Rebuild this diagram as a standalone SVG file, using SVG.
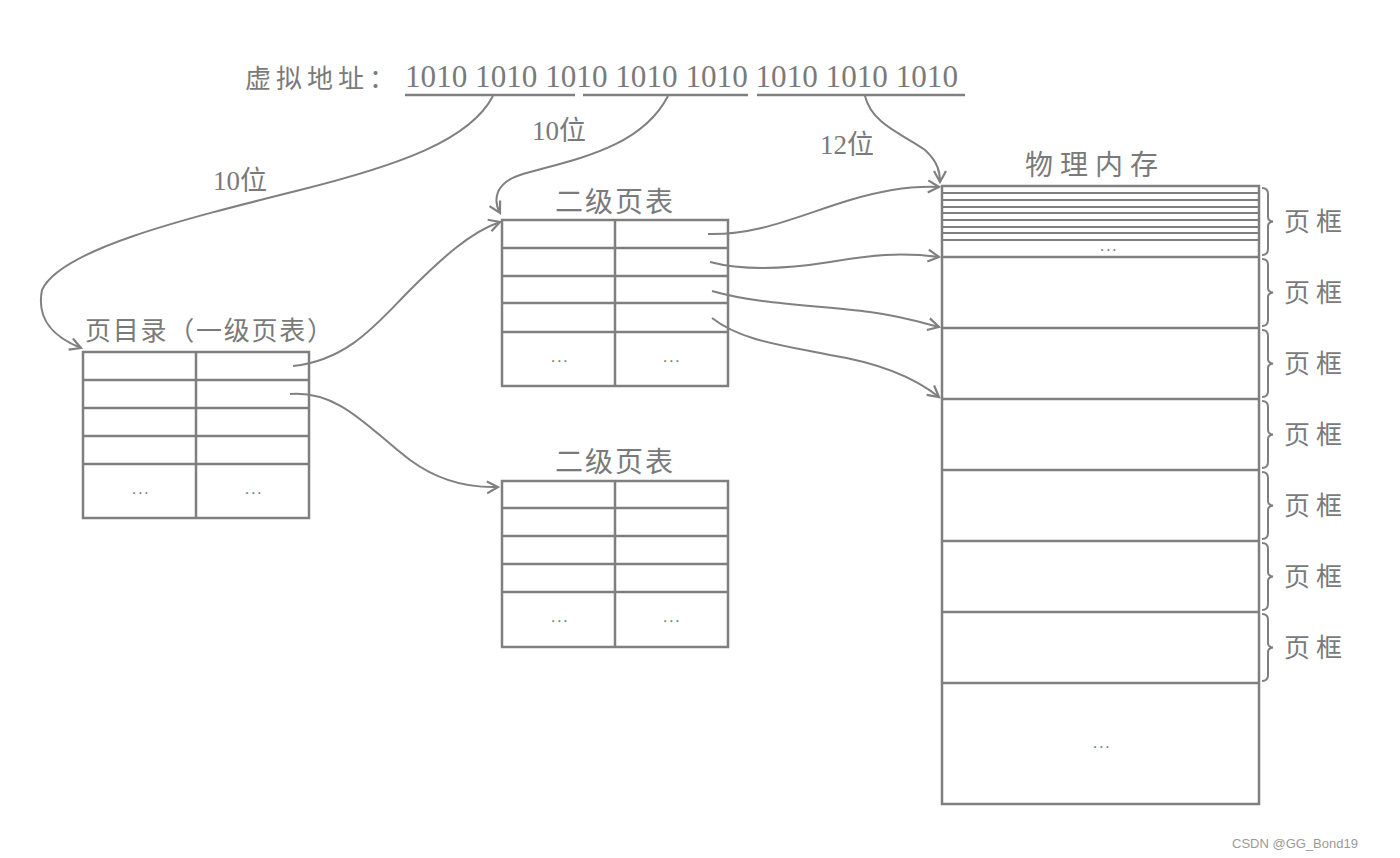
<svg xmlns="http://www.w3.org/2000/svg" width="1400" height="858" viewBox="0 0 1400 858">
<defs>
<style>
.ln{stroke:#7f7f7f;stroke-width:2.5;fill:none}
.th{stroke:#7f7f7f;stroke-width:2;fill:none}
.cn{stroke:#808080;stroke-width:2;fill:none;marker-end:url(#ah)}
.t{font-family:"Liberation Serif","Noto Sans CJK SC",serif;fill:#7a7a7a}
.d{font-family:"Liberation Sans",sans-serif;fill:#7a7a7a;font-size:17px;letter-spacing:1.5px;text-anchor:middle}
</style>
<marker id="ah" markerUnits="userSpaceOnUse" markerWidth="16" markerHeight="16" viewBox="0 0 16 16" refX="13" refY="8" orient="auto">
<path d="M2,2 L13,8 L2,14" stroke="#808080" stroke-width="2.2" fill="none"/>
</marker>
</defs>
<rect width="1400" height="858" fill="#ffffff"/>

<g id="vaddr">
<text class="t" x="245" y="88" font-size="26" textLength="150" lengthAdjust="spacing">虚拟地址：</text>
<text class="t" x="405" y="87" font-size="31" textLength="553" lengthAdjust="spacingAndGlyphs">1010 1010 1010 1010 1010 1010 1010 1010</text>
<line class="ln" x1="405" y1="95" x2="575" y2="95"/>
<line class="ln" x1="583" y1="95" x2="748" y2="95"/>
<line class="ln" x1="757" y1="95" x2="965" y2="95"/>
</g>

<g id="labels">
<text class="t" x="213" y="190" font-size="27">10位</text>
<text class="t" x="532" y="140" font-size="27">10位</text>
<text class="t" x="820" y="154" font-size="27">12位</text>
</g>

<g id="pagedir">
<text class="t" x="85" y="340" font-size="26" textLength="248" lengthAdjust="spacing">页目录（一级页表）</text>
<rect class="ln" x="83" y="352" width="226" height="166"/>
<line class="ln" x1="196" y1="352" x2="196" y2="518"/>
<line class="ln" x1="83" y1="380" x2="309" y2="380"/>
<line class="ln" x1="83" y1="408" x2="309" y2="408"/>
<line class="ln" x1="83" y1="436" x2="309" y2="436"/>
<line class="ln" x1="83" y1="464" x2="309" y2="464"/>
<text class="d" x="141" y="494">...</text>
<text class="d" x="254" y="494">...</text>
</g>

<g id="pt2a">
<text class="t" x="615" y="212" font-size="28" text-anchor="middle" letter-spacing="2">二级页表</text>
<rect class="ln" x="502" y="220" width="226" height="166"/>
<line class="ln" x1="615" y1="220" x2="615" y2="386"/>
<line class="ln" x1="502" y1="248" x2="728" y2="248"/>
<line class="ln" x1="502" y1="276" x2="728" y2="276"/>
<line class="ln" x1="502" y1="303" x2="728" y2="303"/>
<line class="ln" x1="502" y1="332" x2="728" y2="332"/>
<text class="d" x="560" y="362">...</text>
<text class="d" x="672" y="362">...</text>
</g>

<g id="pt2b">
<text class="t" x="615" y="472" font-size="28" text-anchor="middle" letter-spacing="2">二级页表</text>
<rect class="ln" x="502" y="481" width="226" height="166"/>
<line class="ln" x1="615" y1="481" x2="615" y2="647"/>
<line class="ln" x1="502" y1="508" x2="728" y2="508"/>
<line class="ln" x1="502" y1="536" x2="728" y2="536"/>
<line class="ln" x1="502" y1="564" x2="728" y2="564"/>
<line class="ln" x1="502" y1="592" x2="728" y2="592"/>
<text class="d" x="560" y="622">...</text>
<text class="d" x="672" y="622">...</text>
</g>

<g id="memory">
<text class="t" x="1025" y="175" font-size="28" letter-spacing="7">物理内存</text>
<rect class="ln" x="942" y="186" width="317" height="618"/>
<line class="th" x1="942" y1="193" x2="1259" y2="193"/>
<line class="th" x1="942" y1="200" x2="1259" y2="200"/>
<line class="th" x1="942" y1="207" x2="1259" y2="207"/>
<line class="th" x1="942" y1="213" x2="1259" y2="213"/>
<line class="th" x1="942" y1="220" x2="1259" y2="220"/>
<line class="th" x1="942" y1="227" x2="1259" y2="227"/>
<line class="th" x1="942" y1="233" x2="1259" y2="233"/>
<line class="th" x1="942" y1="240" x2="1259" y2="240"/>
<text class="d" x="1109" y="251">...</text>
<line class="ln" x1="942" y1="257" x2="1259" y2="257"/>
<line class="ln" x1="942" y1="328" x2="1259" y2="328"/>
<line class="ln" x1="942" y1="399" x2="1259" y2="399"/>
<line class="ln" x1="942" y1="470" x2="1259" y2="470"/>
<line class="ln" x1="942" y1="541" x2="1259" y2="541"/>
<line class="ln" x1="942" y1="612" x2="1259" y2="612"/>
<line class="ln" x1="942" y1="683" x2="1259" y2="683"/>
<text class="d" x="1102" y="748">...</text>
</g>

<g id="frames">
<path class="th" d="M1262,188 Q1268,188 1268,194 L1268,217 Q1268,221 1273,221.5 Q1268,222 1268,226 L1268,249 Q1268,255 1262,255"/>
<path class="th" d="M1262,259 Q1268,259 1268,265 L1268,288 Q1268,292 1273,292.5 Q1268,293 1268,297 L1268,320 Q1268,326 1262,326"/>
<path class="th" d="M1262,330 Q1268,330 1268,336 L1268,359 Q1268,363 1273,363.5 Q1268,364 1268,368 L1268,391 Q1268,397 1262,397"/>
<path class="th" d="M1262,401 Q1268,401 1268,407 L1268,430 Q1268,434 1273,434.5 Q1268,435 1268,439 L1268,462 Q1268,468 1262,468"/>
<path class="th" d="M1262,472 Q1268,472 1268,478 L1268,501 Q1268,505 1273,505.5 Q1268,506 1268,510 L1268,533 Q1268,539 1262,539"/>
<path class="th" d="M1262,543 Q1268,543 1268,549 L1268,572 Q1268,576 1273,576.5 Q1268,577 1268,581 L1268,604 Q1268,610 1262,610"/>
<path class="th" d="M1262,614 Q1268,614 1268,620 L1268,643 Q1268,647 1273,647.5 Q1268,648 1268,652 L1268,675 Q1268,681 1262,681"/>
<g class="t" font-size="26" letter-spacing="6">
<text x="1284" y="231">页框</text>
<text x="1284" y="302">页框</text>
<text x="1284" y="373">页框</text>
<text x="1284" y="444">页框</text>
<text x="1284" y="515">页框</text>
<text x="1284" y="586">页框</text>
<text x="1284" y="657">页框</text>
</g>
</g>

<g id="connectors">
<path class="cn" d="M493,96 C470,140 400,165 300,190 C180,220 60,250 42,290 C36,320 55,338 81,348"/>
<path class="cn" d="M668,96 C640,150 570,160 520,175 C495,183 493,200 500,213"/>
<path class="cn" d="M865,96 C872,125 905,135 925,150 C938,162 940,172 940,182"/>
<path class="cn" d="M293,366 C350,360 380,320 410,290 C440,260 470,232 500,222"/>
<path class="cn" d="M290,394 C340,390 370,430 410,460 C440,482 470,488 498,487"/>
<path class="cn" d="M708,234 C760,235 800,215 850,200 C890,188 920,186 939,187"/>
<path class="cn" d="M710,262 C740,270 780,270 830,262 C870,255 900,252 939,257"/>
<path class="cn" d="M712,291 C760,305 820,305 870,312 C900,316 920,322 939,327"/>
<path class="cn" d="M712,318 C740,340 780,345 830,355 C880,363 915,378 939,397"/>
</g>

<text x="1232" y="848" font-family="Liberation Sans,sans-serif" font-size="13" fill="#9a9a9a">CSDN @GG_Bond19</text>
</svg>
